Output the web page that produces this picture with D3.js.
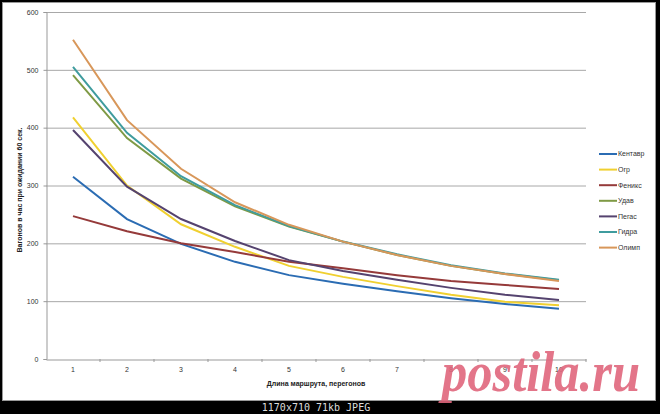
<!DOCTYPE html>
<html><head><meta charset="utf-8">
<script src="https://cdn.jsdelivr.net/npm/d3@7"></script>
<style>body{margin:0;background:#000;}svg{display:block;}</style>
</head><body><svg id="c" width="660" height="414"></svg>
<script>
const categories = [1,2,3,4,5,6,7,8,9,10];
const seriesNames = ["Кентавр","Огр","Феникс","Удав","Пегас","Гидра","Олимп"];
const kentavr = [315,242,199,168,145,130,117,105,95,87];
const ogr     = [418,300,233,194,161,142,126,111,99,93];
const feniks  = [247,221,200,185,168,157,145,135,128,121];
const udav    = [491,382,312,264,229,203,180,161,147,136];
const pegas   = [396,298,242,204,171,152,137,123,111,102];
const gidra   = [505,391,316,266,230,203,181,162,148,137];
const olimp   = [552,413,329,271,232,203,180,161,147,135];
const seriesValues = [kentavr,ogr,feniks,udav,pegas,gidra,olimp];
const colors = ["#2b6cb3","#f0d030","#953a3a","#7f9a45","#55436f","#3f9c9e","#d8975a"];
const yTicks = [0,100,200,300,400,500,600];

const svg = d3.select("#c");
svg.append("rect").attr("x",0).attr("y",0).attr("width",660).attr("height",414).attr("fill","#000");
svg.append("rect").attr("x",2.5).attr("y",2.5).attr("width",653).attr("height",398).attr("fill","#fff").attr("stroke","#999");

const pLeft=46, pRight=586, pTop=12, pBottom=359;
const x = d3.scaleBand().domain(categories).range([pLeft,pRight]);
const y = d3.scaleLinear().domain([0,600]).range([pBottom,pTop]);

// gridlines
svg.append("g").selectAll("line").data(yTicks.filter(d=>d>0)).join("line")
  .attr("x1",pLeft).attr("x2",pRight).attr("y1",d=>y(d)+0.5).attr("y2",d=>y(d)+0.5)
  .attr("stroke","#a8a8a8").attr("stroke-width",1);

// y axis
const ya = svg.append("g").attr("transform",`translate(${pLeft+0.5},0)`)
  .call(d3.axisLeft(y).tickValues(yTicks).tickSize(3).tickPadding(5));
ya.select(".domain").attr("stroke","#999");
ya.selectAll(".tick line").attr("stroke","#999");
ya.selectAll("text").attr("font-family","Arial, Liberation Sans, sans-serif").attr("font-size",7).attr("fill","#333");

// x axis
const xa = svg.append("g").attr("transform",`translate(0,${pBottom+0.5})`)
  .call(d3.axisBottom(x).tickSize(0).tickPadding(8));
xa.select(".domain").attr("stroke","#999");
xa.selectAll("text").attr("font-family","Arial, Liberation Sans, sans-serif").attr("font-size",7).attr("fill","#333");
svg.append("g").selectAll("line").data(categories).join("line")
  .attr("x1",d=>x(d)+x.bandwidth()).attr("x2",d=>x(d)+x.bandwidth())
  .attr("y1",pBottom).attr("y2",pBottom+3).attr("stroke","#999");

// lines
const line = d3.line().x((d,i)=>x(categories[i])+x.bandwidth()/2).y(d=>y(d));
svg.append("g").selectAll("path").data(seriesValues).join("path")
  .attr("d",d=>line(d)).attr("fill","none")
  .attr("stroke",(d,i)=>colors[i]).attr("stroke-width",2);

// axis titles
svg.append("text").attr("x",(pLeft+pRight)/2).attr("y",386).attr("text-anchor","middle")
  .attr("font-family","Arial, Liberation Sans, sans-serif").attr("font-size",7).attr("font-weight","bold").attr("fill","#222")
  .text("Длина маршрута,  перегонов");
svg.append("text").attr("transform","translate(22,190) rotate(-90)").attr("text-anchor","middle")
  .attr("font-family","Arial, Liberation Sans, sans-serif").attr("font-size",7).attr("font-weight","bold").attr("fill","#222")
  .text("Вагонов в час при ожидании 60 сек.");

// legend
const lg = svg.append("g").selectAll("g").data(seriesNames).join("g")
  .attr("transform",(d,i)=>`translate(599,${154+i*15.6})`);
lg.append("line").attr("x1",0).attr("x2",18).attr("stroke",(d,i)=>colors[i]).attr("stroke-width",2);
lg.append("text").attr("x",19).attr("dy","0.35em")
  .attr("font-family","Arial, Liberation Sans, sans-serif").attr("font-size",7).attr("fill","#333").text(d=>d);

// watermark
svg.append("text").attr("x",442).attr("y",391)
  .attr("font-family","Liberation Serif, DejaVu Serif, serif").attr("font-style","italic").attr("font-weight","bold")
  .attr("font-size",58).attr("fill","#e0667c").attr("fill-opacity",0.9).attr("textLength",198).attr("lengthAdjust","spacingAndGlyphs")
  .text("postila.ru");

// bottom bar text
svg.append("text").attr("x",316).attr("y",411).attr("text-anchor","middle")
  .attr("font-family","DejaVu Sans Mono, monospace").attr("font-size",10).attr("fill","#ddd")
  .text("1170x710  71kb  JPEG");
</script></body></html>
